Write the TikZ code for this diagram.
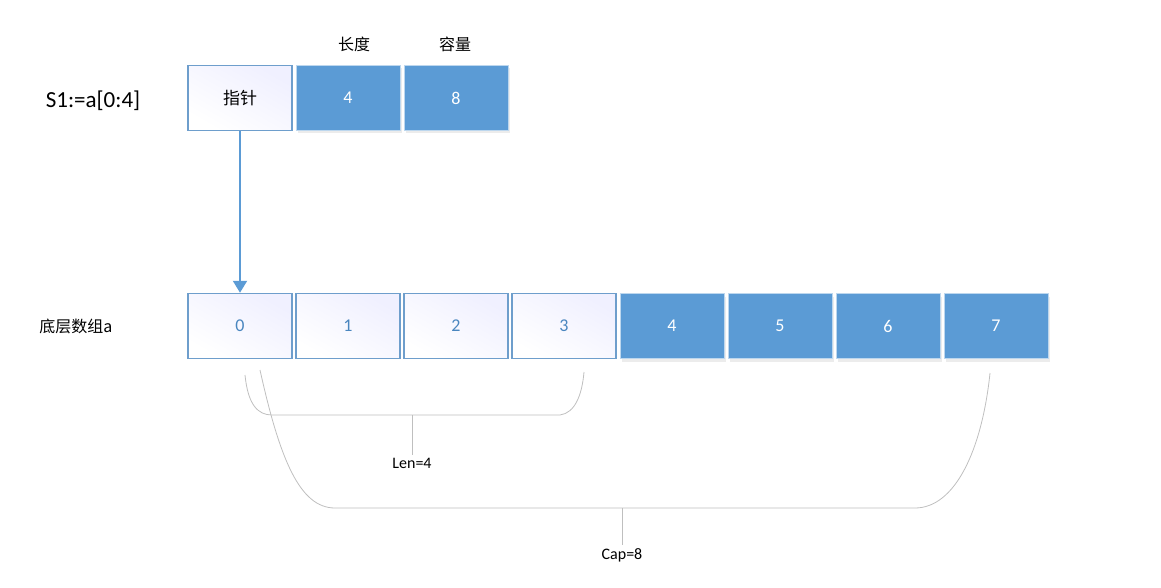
\documentclass[tikz,border=0pt]{standalone}
\usepackage{fontspec}
\setmainfont{Carlito}
\newfontfamily\cjk{Noto Sans CJK SC}
\usetikzlibrary{arrows.meta,shadows}
\definecolor{bl}{HTML}{5B9BD5}
\definecolor{bd}{HTML}{4A86BF}
\definecolor{gr}{HTML}{BFBFBF}
\tikzset{
 wbox/.style={draw=bd!80,line width=1.5pt,top color=blue!6,bottom color=white,shading angle=-30,minimum width=104pt,minimum height=65pt,inner sep=0pt,font=\fontsize{18}{20}\selectfont,text=bd},
 bbox/.style={draw=bl!40,line width=0.8pt,fill=bl,minimum width=104pt,minimum height=65pt,inner sep=0pt,font=\fontsize{18}{20}\selectfont,text=white,drop shadow={shadow xshift=2pt,shadow yshift=-3pt,opacity=0.15}},
 lbl/.style={font=\fontsize{16}{18}\selectfont},
 brace/.style={draw=gr,line width=0.8pt}
}
\begin{document}
\begin{tikzpicture}[x=1pt,y=-1pt]
\useasboundingbox (0,0) rectangle (1161,588);
\node[font=\fontsize{23}{26}\selectfont] (s1) at (93,101) {S1:=a[0:4]};
\node[wbox,text=black] (p) at (240,98) {\cjk\fontsize{17}{20}\selectfont 指针};
\node[bbox] (l) at (348,98) {4};
\node[bbox] (c) at (456,98) {8};
\node[lbl] (lt) at (354,44) {\cjk 长度};
\node[lbl] (ct) at (455,44) {\cjk 容量};
\node[lbl] (arr) at (76,326) {\cjk 底层数组a};
\foreach \i in {0,...,3}{\node[wbox] (a\i) at (240+108*\i,326) {\i};}
\foreach \i in {4,...,7}{\node[bbox] (a\i) at (240+108*\i,326) {\i};}
\draw[bl,line width=2pt,-{Triangle[length=12pt,width=14pt]}] (p.south) -- (a0.north);
\coordinate (ls) at (245,375);
\coordinate (le) at (584,372);
\coordinate (lm) at (412,415);
\coordinate (lb) at (412,455);
\draw[brace] (ls) .. controls (248,405) and (258,415) .. (272,415) -- (560,415) .. controls (575,413) and (582,395) .. (le);
\draw[brace] (lm) -- (lb);
\node[lbl,anchor=north] (len) at (lb) {Len=4};
\coordinate (cs) at (260,370);
\coordinate (ce) at (990,373);
\coordinate (cm) at (622,508);
\coordinate (cb) at (622,545);
\draw[brace] (cs) .. controls (280,460) and (300,508) .. (335,508) -- (915,508) .. controls (955,508) and (982,450) .. (ce);
\draw[brace] (cm) -- (cb);
\node[lbl,anchor=north] (cap) at (cb) {Cap=8};
\end{tikzpicture}
\end{document}
